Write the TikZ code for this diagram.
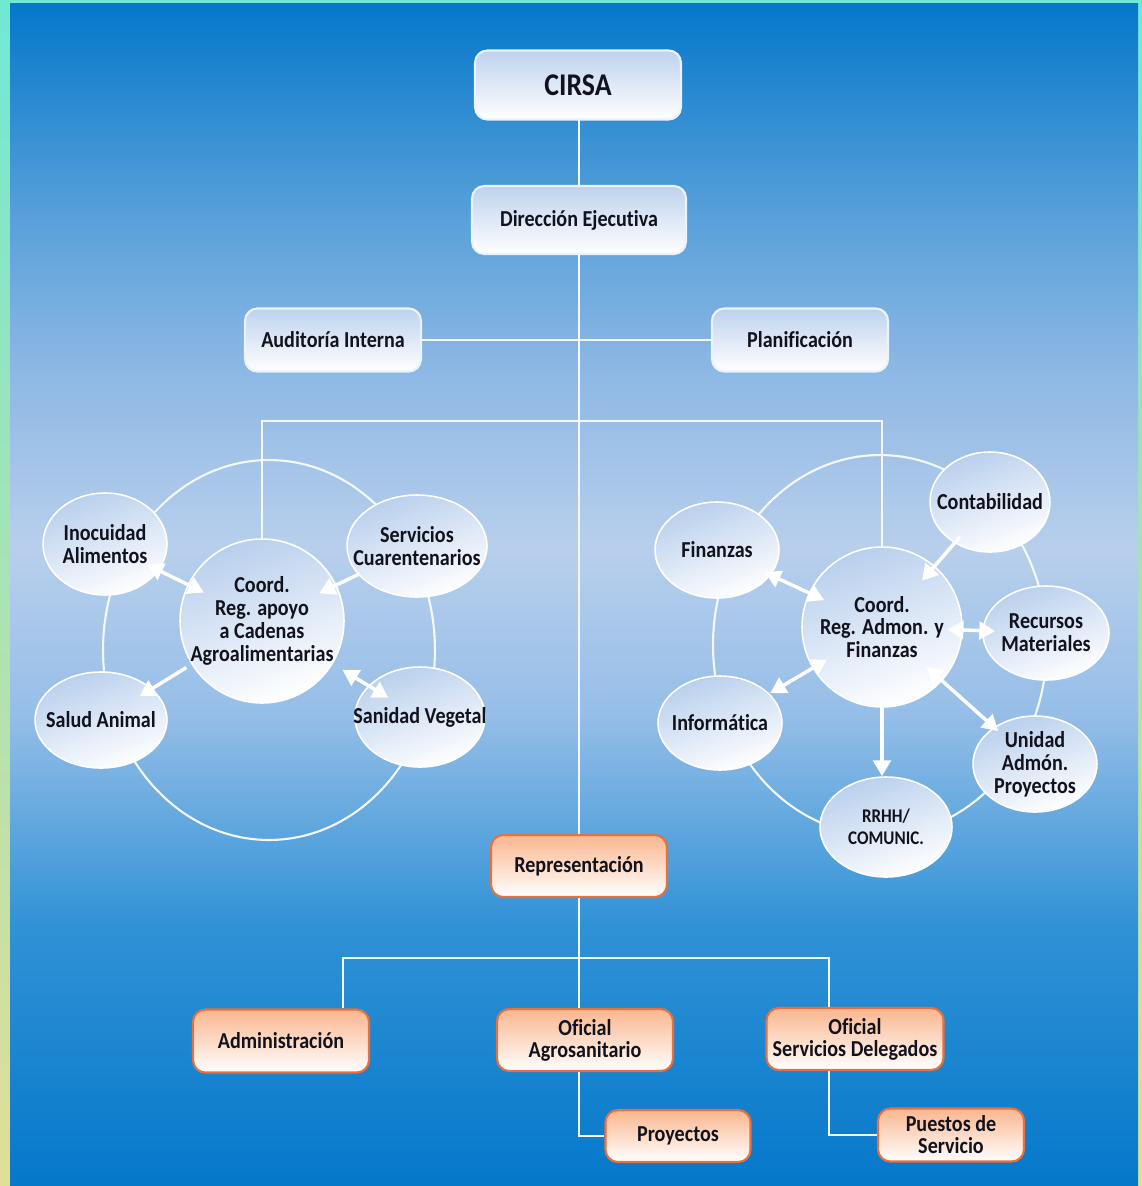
\documentclass[tikz,border=0pt]{standalone}
\usepackage{fontspec}
\setmainfont{Carlito}[FakeStretch=0.88, Ligatures=NoCommon]
\usetikzlibrary{shapes.geometric,arrows.meta,calc}

\definecolor{marco1}{RGB}{112,232,212}
\definecolor{marco2}{RGB}{226,222,150}
\definecolor{azul1}{RGB}{5,120,202}
\definecolor{azul2}{RGB}{48,146,214}
\definecolor{azul3}{RGB}{150,190,232}
\definecolor{azul4}{RGB}{184,207,236}
\definecolor{azul5}{RGB}{138,182,228}
\definecolor{azul6}{RGB}{88,160,218}
\definecolor{celeste}{RGB}{190,210,238}
\definecolor{naranja}{RGB}{232,112,62}
\definecolor{melocoton}{RGB}{250,182,142}
\definecolor{tinta}{RGB}{18,18,28}

\pgfdeclareverticalshading{fondo}{100bp}{color(0bp)=(azul1); color(25bp)=(azul1); color(36bp)=(azul2); color(45bp)=(azul3); color(52bp)=(azul4); color(60bp)=(azul5); color(66bp)=(azul6); color(75bp)=(azul1); color(100bp)=(azul1)}

\tikzset{
  caja/.style={draw=white!80!azul3, line width=1.2pt, rounded corners=7pt, top color=celeste, bottom color=white,
    text=tinta, align=center, font=\bfseries\fontsize{13}{12.5}\selectfont,
    minimum width=3.52cm, minimum height=1.26cm, inner sep=2pt},
  cajanar/.style={caja, draw=naranja, top color=melocoton},
  forma/.style={ellipse, draw=white, line width=0.9pt, top color=celeste!90!azul5, bottom color=white, shading angle=20, inner sep=0pt},
  texto/.style={text=tinta, align=center, font=\bfseries\fontsize{13}{13}\selectfont},
  burbuja/.style={forma, label={[texto]center:{#1}}},
  linea/.style={draw=white!85!azul4, line width=1.2pt},
  flecha/.style={draw=white, line width=2pt, >={Triangle[width=10pt,length=9pt]}},
}

\begin{document}
\begin{tikzpicture}[x=0.02cm,y=-0.02cm]
\fill[top color=marco1, bottom color=marco2] (0,0) rectangle (1142,1186);
\fill[shading=fondo] (10,4) rectangle (1138,1186);
\useasboundingbox (0,0) rectangle (1142,1186);

\coordinate (ramaA) at (0,421);
\coordinate (ramaB) at (0,958);

\draw[linea] (269,650) ellipse [x radius=3.32cm, y radius=3.8cm];
\draw[linea] (880,645) ellipse [x radius=3.34cm, y radius=3.8cm];

\node[caja, minimum width=4.12cm, minimum height=1.38cm, font=\bfseries\fontsize{18}{20}\selectfont] (cirsa) at (578,85) {CIRSA};
\node[caja, minimum width=4.28cm, minimum height=1.36cm] (direccion) at (579,220) {Dirección Ejecutiva};
\node[caja] (auditoria) at (333,340) {Auditoría Interna};
\node[caja] (planif) at (800,340) {Planificación};

\node[burbuja={Coord.\\Reg. apoyo\\a Cadenas\\Agroalimentarias}, minimum width=3.28cm, minimum height=3.28cm] (coordA) at (262,621) {};
\node[burbuja={Inocuidad\\Alimentos}, minimum width=2.48cm, minimum height=2.04cm] (inocuidad) at (105,544) {};
\node[burbuja={Servicios\\Cuarentenarios}, minimum width=2.8cm, minimum height=2.04cm] (servicios) at (417,546) {};
\node[burbuja={Salud Animal}, minimum width=2.64cm, minimum height=1.92cm] (salud) at (101,720) {};
\node[burbuja={Sanidad Vegetal}, minimum width=2.6cm, minimum height=2cm] (sanidad) at (420,717) {};

\node[burbuja={Coord.\\Reg. Admon. y\\Finanzas}, minimum width=3.2cm, minimum height=3.2cm] (coordB) at (882,627) {};
\node[burbuja={Finanzas}, minimum width=2.48cm, minimum height=1.92cm] (finanzas) at (717,550) {};
\node[burbuja={Contabilidad}, minimum width=2.4cm, minimum height=2cm] (contab) at (990,502) {};
\node[burbuja={Recursos\\Materiales}, minimum width=2.52cm, minimum height=1.88cm] (recursos) at (1046,633) {};
\node[burbuja={Informática}, minimum width=2.48cm, minimum height=1.88cm] (informatica) at (720,723) {};
\node[burbuja={Unidad\\Admón.\\Proyectos}, minimum width=2.48cm, minimum height=1.92cm] (unidad) at (1035,764) {};
\node[forma, minimum width=2.64cm, minimum height=2cm,
  label={[texto, font=\bfseries\fontsize{11}{12.5}\selectfont]center:{RRHH/\\COMUNIC.}}] (rrhh) at (886,827) {};

\node[cajanar, minimum height=1.24cm] (repres) at (579,866) {Representación};
\node[cajanar] (admin) at (281,1041) {Administración};
\node[cajanar, minimum height=1.24cm] (ofagro) at (585,1040) {Oficial\\Agrosanitario};
\node[cajanar, minimum width=3.54cm, minimum height=1.24cm] (ofserv) at (855,1039) {Oficial\\Servicios Delegados};
\node[cajanar, minimum width=2.9cm, minimum height=1.04cm] (proyectos) at (678,1136) {Proyectos};
\node[cajanar, minimum width=2.92cm, minimum height=1.06cm] (puestos) at (951,1135) {Puestos de\\Servicio};

\draw[linea] (cirsa.south) -- (direccion.south |- cirsa.south) -- (direccion.north);
\draw[linea] (direccion.south) -- (repres.north);
\draw[linea] (auditoria.east) -- (planif.west);
\draw[linea] (coordA.north) -- (coordA.north |- ramaA) -| (coordB.north);
\draw[linea] ([xshift=1.24cm]admin.north) |- ([xshift=-0.52cm]ofserv.north |- ramaB) -- ([xshift=-0.52cm]ofserv.north);
\draw[linea] (repres.south) -- (repres.south |- ofagro.north);
\draw[linea] (repres.south |- ofagro.south) |- (proyectos.west);
\draw[linea] ([xshift=-0.52cm]ofserv.south) |- (puestos.west);

\draw[flecha,<->] ($(inocuidad)!0.27!(coordA)$) -- ($(inocuidad)!0.63!(coordA)$);
\draw[flecha,->] ($(servicios)!0.37!(coordA)$) -- ($(servicios)!0.63!(coordA)$);
\draw[flecha,->] ($(coordA)!0.47!(salud)$) -- ($(coordA)!0.76!(salud)$);
\draw[flecha,<->] ($(coordA)!0.51!(sanidad)$) -- ($(coordA)!0.8!(sanidad)$);
\draw[flecha,<->] ($(finanzas)!0.29!(coordB)$) -- ($(finanzas)!0.65!(coordB)$);
\draw[flecha,->] ($(contab)!0.28!(coordB)$) -- ($(contab)!0.63!(coordB)$);
\draw[flecha,<->] ($(coordB)!0.4!(recursos)$) -- ($(coordB)!0.69!(recursos)$);
\draw[flecha,<->] ($(coordB)!0.34!(informatica)$) -- ($(coordB)!0.69!(informatica)$);
\draw[flecha,<->] ($(coordB)!0.29!(unidad)$) -- ($(coordB)!0.76!(unidad)$);
\draw[flecha,->] (coordB.south) -- (rrhh.north -| coordB.south);
\end{tikzpicture}
\end{document}
